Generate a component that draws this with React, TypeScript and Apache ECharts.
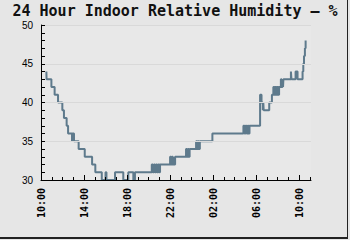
import React, { useEffect, useRef } from 'react';
import * as echarts from 'echarts';

const TITLE = '24 Hour Indoor Relative Humidity – %';
const START_HOUR = 10;
// minutes after 10:00 on the first day
const TIME_MIN = [
  30, 31, 58, 76, 95, 119, 128, 143, 151, 173, 175, 184, 210, 244, 285, 303,
  339, 360, 365, 413, 459, 487, 515, 524, 618, 624, 630, 636, 642, 648, 654,
  660, 664, 720, 725, 730, 735, 741, 744, 748, 809, 814, 819, 824, 829, 865,
  870, 875, 880, 886, 956, 1129, 1135, 1141, 1147, 1153, 1158, 1163, 1222,
  1230, 1237, 1240, 1242, 1273, 1288, 1296, 1300, 1306, 1311, 1317, 1322,
  1328, 1338, 1342, 1347, 1350, 1352, 1394, 1397, 1420, 1424, 1427, 1431,
  1459, 1463, 1467, 1472, 1476, 1479,
];
const HUMIDITY = [
  44, 43, 42, 41, 40, 39, 38, 37, 36, 35, 36, 35, 34, 33, 32, 31,
  30, 31, 30, 31, 30, 31, 30, 31, 32, 31, 32, 31, 32, 31, 32,
  31, 32, 33, 32, 33, 32, 33, 32, 33, 34, 33, 34, 33, 34, 35,
  34, 35, 34, 35, 36, 37, 36, 37, 36, 37, 36, 37, 41,
  40, 39, 40, 39, 40, 41, 42, 41, 42, 41, 42, 41,
  42, 43, 42, 43, 42, 43, 44, 43, 44, 43, 44, 43,
  44, 45, 46, 47, 48, 48,
];
const X_MAX = 1506;
const HOUR_TICKS = [
  0, 60, 120, 180, 240, 300, 360, 420, 480, 540, 600, 660, 720, 780, 840, 900,
  960, 1020, 1080, 1140, 1200, 1260, 1320, 1380, 1440, 1500,
];
const LABEL_TICKS = [0, 240, 480, 720, 960, 1200, 1440];
const Y_MIN = 30;
const Y_MAX = 50;
const Y_STEP = 5;

const fmtTime = (v: number) => {
  const h = (START_HOUR + Math.round(v / 60)) % 24;
  return (h < 10 ? '0' : '') + h + ':00';
};

export default function App() {
  const ref = useRef<HTMLDivElement>(null);
  useEffect(() => {
    if (!ref.current) return;
    const chart = echarts.init(ref.current, undefined, { renderer: 'svg' });
    const data = TIME_MIN.map((t, i) => [t, HUMIDITY[i]]);
    chart.setOption({
      animation: false,
      backgroundColor: '#e6e6e6',
      title: {
        text: TITLE,
        left: 'center',
        top: 5,
        padding: 0,
        textStyle: {
          fontFamily: 'DejaVu Sans Mono',
          fontWeight: 'bold',
          fontSize: 15,
          lineHeight: 12,
          color: '#111',
        },
      },
      grid: {
        left: 41,
        right: 39,
        top: 25,
        bottom: 60,
        show: true,
        backgroundColor: '#e8e8e8',
        borderWidth: 0,
      },
      xAxis: [
        {
          type: 'value',
          position: 'bottom',
          min: 0,
          max: X_MAX,
          z: 5,
          axisLine: { show: true, onZero: false, lineStyle: { color: '#000', width: 1 } },
          axisTick: {
            show: true,
            inside: true,
            length: 3,
            customValues: HOUR_TICKS,
            lineStyle: { color: '#000' },
          },
          axisLabel: {
            customValues: LABEL_TICKS,
            rotate: 90,
            formatter: fmtTime,
            fontFamily: 'DejaVu Sans Mono',
            fontWeight: 'bold',
            fontSize: 10,
            color: '#000',
            margin: 8,
          },
          splitLine: { show: false },
        },
        {
          type: 'value',
          position: 'bottom',
          min: 0,
          max: X_MAX,
          z: 5,
          axisLine: { show: false, onZero: false },
          axisTick: {
            show: true,
            inside: true,
            length: 5,
            customValues: LABEL_TICKS,
            lineStyle: { color: '#000' },
          },
          axisLabel: { show: false },
          splitLine: { show: false },
        },
      ],
      yAxis: {
        type: 'value',
        min: Y_MIN,
        max: Y_MAX,
        interval: Y_STEP,
        z: 5,
        axisLine: { show: true, lineStyle: { color: '#000' } },
        axisTick: { show: true, inside: true, length: 4, lineStyle: { color: '#000' } },
        minorTick: { show: true, splitNumber: 5, length: 4, lineStyle: { color: '#000' } },
        axisLabel: {
          color: '#000',
          fontFamily: 'Liberation Sans',
          fontSize: 10,
          lineHeight: 10,
          margin: 8,
        },
        splitLine: { show: true, lineStyle: { color: '#d9d9d9' } },
      },
      series: [
        {
          type: 'line',
          step: 'end',
          data,
          symbol: 'none',
          showSymbol: false,
          clip: false,
          lineStyle: { color: '#5e7a8c', width: 2 },
        },
      ],
      graphic: [
        { type: 'rect', shape: { x: 347, y: 0, width: 1, height: 239 }, style: { fill: '#222' } },
        { type: 'rect', shape: { x: 0, y: 237, width: 348, height: 2 }, style: { fill: '#222' } },
      ],
    });
    return () => chart.dispose();
  }, []);
  return (
    <div
      ref={ref}
      style={{ position: 'fixed', left: 0, top: 0, width: 350, height: 240 }}
    />
  );
}
